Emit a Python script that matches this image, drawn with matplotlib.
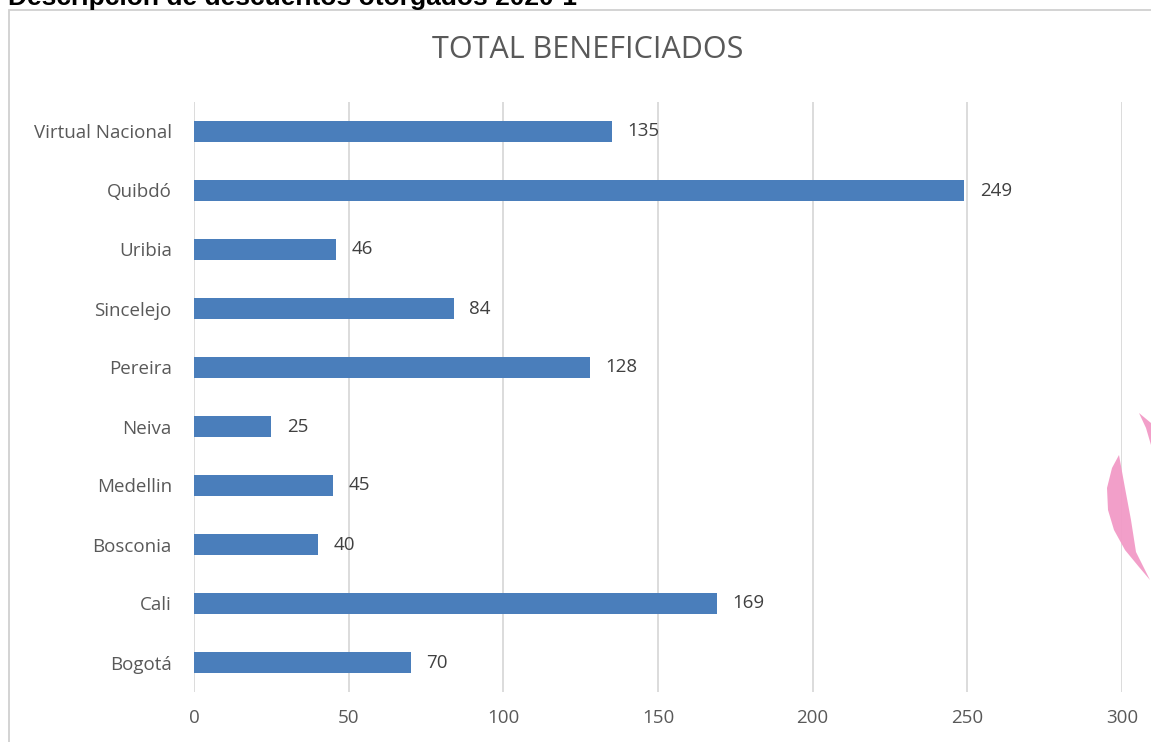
import matplotlib.pyplot as plt
from matplotlib.patches import Polygon, Rectangle
import numpy as np

sedes = ["Bogotá", "Cali", "Bosconia", "Medellin", "Neiva", "Pereira",
         "Sincelejo", "Uribia", "Quibdó", "Virtual Nacional"]
beneficiados = [70, 169, 40, 45, 25, 128, 84, 46, 249, 135]
ticks_x = [0, 50, 100, 150, 200, 250, 300]

W, H = 1151, 742
fig = plt.figure(figsize=(W / 100, H / 100), dpi=100)

# marco del cuadro (gris claro)
fig.add_artist(Rectangle((9 / W, -0.05), 1.2, 1 - 10 / H + 0.05, transform=fig.transFigure,
                         fill=False, edgecolor="#d0d0d0", linewidth=1.3))

# titulo del documento, cortado arriba como en la captura
fig.text(8 / W, 1 - 5 / H, "Descripción de descuentos otorgados 2020-1", fontsize=19,
         fontweight="bold", family="Liberation Sans", color="black", va="baseline", ha="left")

ax = fig.add_axes([194 / W, 1 - 692 / H, (1122 - 194) / W, (692 - 102) / H])
y = np.arange(len(sedes))
ax.barh(y, beneficiados, height=0.34, color="#4a7ebb", zorder=3)
for yi, v in zip(y, beneficiados):
    ax.text(v + 5, yi, str(v), va="center", ha="left", fontsize=13.5, color="#404040",
            family="Open Sans", zorder=4)

ax.set_xlim(0, 300)
ax.set_ylim(-0.5, len(sedes) - 0.5)
ax.set_yticks(y)
ax.set_yticklabels(sedes, fontsize=13.5, color="#595959", family="Open Sans")
ax.set_xticks(ticks_x)
ax.set_xticklabels([str(t) for t in ticks_x], fontsize=13.5, color="#595959", family="Open Sans")
ax.tick_params(length=0)
ax.tick_params(axis="x", pad=12)
ax.tick_params(axis="y", pad=16)
ax.xaxis.grid(True, color="#d9d9d9", linewidth=1.3, zorder=0)
for s in ax.spines.values():
    s.set_visible(False)
ax.set_clip_on(False)

fig.text(588 / W, 1 - 50 / H, "TOTAL BENEFICIADOS", fontsize=22, color="#595959",
         family="Open Sans", ha="center", va="center")

# adorno rosado al borde derecho
def px(x, yy):
    return (x / W, 1 - yy / H)

luna = [px(1119, 455), px(1112, 468), px(1107, 488), px(1108, 510), px(1114, 530),
        px(1125, 550), px(1139, 567), px(1150, 580), px(1136, 552), px(1131, 520),
        px(1125, 488)]
fig.add_artist(Polygon(luna, closed=True, transform=fig.transFigure,
                       facecolor="#f29ac6", edgecolor="none", alpha=0.95))
punta = [px(1139, 413), px(1151, 423), px(1151, 445), px(1146, 428)]
fig.add_artist(Polygon(punta, closed=True, transform=fig.transFigure,
                       facecolor="#f29ac6", edgecolor="none", alpha=0.95))

fig.savefig("out.png", dpi=100)
